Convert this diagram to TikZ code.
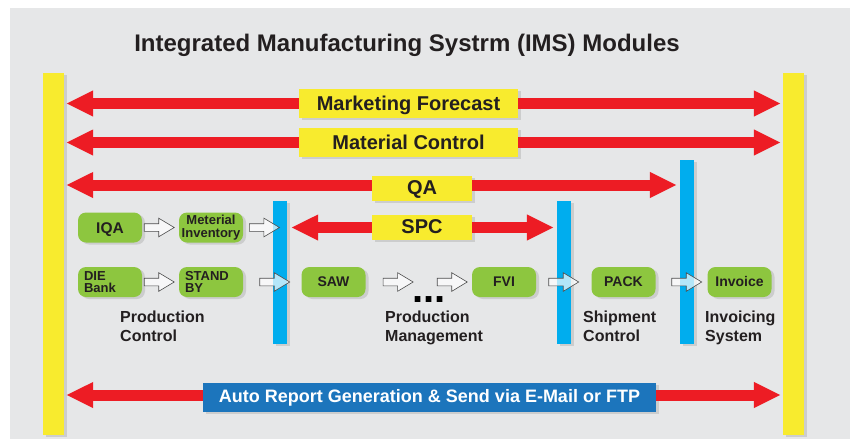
\documentclass[tikz,border=0pt]{standalone}
\usepackage{fontspec}
\setmainfont{Liberation Sans}
\usepackage{tikz}
\usetikzlibrary{positioning, arrows.meta, shapes.arrows, shadows}
\definecolor{imsgray}{HTML}{E6E7E8}
\definecolor{imsyellow}{HTML}{F8EB2E}
\definecolor{imsred}{HTML}{ED1C24}
\definecolor{imscyan}{HTML}{00ADEE}
\definecolor{imsgreen}{HTML}{8DC63F}
\definecolor{imsblue}{HTML}{1C75BC}
\definecolor{imsink}{HTML}{231F20}
\tikzstyle{soft}=[drop shadow={opacity=0.25, shadow xshift=3pt, shadow yshift=-2pt}]
\tikzstyle{yellowbar}=[soft, fill=imsyellow, inner sep=0pt, minimum width=21pt, minimum height=362pt]
\tikzstyle{bluebar}=[soft, fill=imscyan, inner sep=0pt, minimum width=14pt]
\tikzstyle{banner}=[soft, fill=imsyellow, text=imsink, inner sep=0pt, font=\bfseries\fontsize{20}{24}\selectfont, text height=14.5pt, text depth=1.5pt]
\tikzstyle{mod}=[soft, fill=imsgreen, text=imsink, rounded corners=8pt, inner sep=0pt, minimum width=64pt, minimum height=30pt, font=\bfseries\fontsize{13}{12.6}\selectfont, align=center]
\tikzstyle{bigarrow}=[draw=imsred, line width=11pt, -{Triangle[width=24pt,length=27pt]}, shorten >=2pt]
\tikzstyle{harrow}=[single arrow, draw=black!70, line width=0.6pt, fill=white, fill opacity=0.7, inner xsep=0pt, inner ysep=3.5pt, single arrow head extend=5.5pt, single arrow tip angle=62, minimum height=30pt, anchor=tip]
\tikzstyle{caption}=[anchor=north west, align=left, inner sep=0pt, text=imsink, font=\bfseries\fontsize{16}{19}\selectfont]

\begin{document}
\begin{tikzpicture}[x=1pt, y=-1pt, node distance=4pt]
\useasboundingbox (0,0) rectangle (850,439);
\fill[imsgray] (10,8) rectangle (850,439);
\node[anchor=base, text=imsink, font=\bfseries\fontsize{24}{28}\selectfont] (title) at (407,51) {Integrated Manufacturing Systrm (IMS) Modules};

\node[yellowbar] (lbar) at (53.5,254) {};
\node[yellowbar] (rbar) at (793.5,254) {};
\node[bluebar, minimum height=143pt] (pcbar) at (280,272.5) {};
\node[bluebar, minimum height=143pt] (scbar) at (564,272.5) {};
\node[bluebar, minimum height=184pt] (isbar) at (687,252) {};

\node[banner, minimum width=219pt, minimum height=29pt] (mf) at (408.5,103.5) {Marketing Forecast};
\node[banner, minimum width=219pt, minimum height=29pt] (mc) at (408.5,142.5) {Material Control};
\node[banner, minimum width=100pt, minimum height=25pt, text depth=3.5pt] (qa) at (422,188.5) {QA};
\node[banner, minimum width=100pt, minimum height=25pt, text depth=3.5pt] (spc) at (422,227.5) {SPC};
\node[banner, fill=imsblue, text=white, minimum width=453pt, minimum height=29pt, font=\bfseries\fontsize{18}{22}\selectfont, text height=13pt, text depth=4pt] (auto) at (429.5,397.5) {Auto Report Generation \& Send via E-Mail or FTP};

\path (mf.west) edge[bigarrow] (mf.west -| lbar.east)
      (mf.east) edge[bigarrow] (mf.east -| rbar.west);
\path (mc.west) edge[bigarrow] (mc.west -| lbar.east)
      (mc.east) edge[bigarrow] (mc.east -| rbar.west);
\path ([yshift=3.5pt]qa.west) edge[bigarrow] ([yshift=3.5pt]qa.west -| lbar.east)
      ([yshift=3.5pt]qa.east) edge[bigarrow, shorten >=3pt] ([yshift=3.5pt]qa.east -| isbar.west);
\path (spc.west) edge[bigarrow, shorten >=4pt] (spc.west -| pcbar.east)
      (spc.east) edge[bigarrow, shorten >=3pt] (spc.east -| scbar.west);
\path ([yshift=2.5pt]auto.west) edge[bigarrow] ([yshift=2.5pt]auto.west -| lbar.east)
      ([yshift=2.5pt]auto.east) edge[bigarrow] ([yshift=2.5pt]auto.east -| rbar.west);

\node[mod, font=\bfseries\fontsize{15.5}{14}\selectfont, text height=11pt, text depth=0pt] (iqa) at (110,227.5) {IQA};
\node[mod] (minv) at (211,227.5) {Meterial\\Inventory};
\node[mod, text width=52pt, align=left] (die) at (110,282) {DIE\\Bank};
\node[mod, text width=52pt, align=left] (sby) at (211,282) {STAND\\BY};
\node[mod, font=\bfseries\fontsize{14}{14}\selectfont, text height=10pt, text depth=2pt] (saw) at (333.5,282) {SAW};
\node[anchor=base, inner sep=0pt, text=black, font=\bfseries\fontsize{40}{40}\selectfont] (dots) at (429,302.5) {...};
\node[mod, font=\bfseries\fontsize{14}{14}\selectfont, text height=10pt, text depth=2pt] (fvi) at (504,282) {FVI};
\node[mod, font=\bfseries\fontsize{14}{14}\selectfont, text height=10pt, text depth=2pt] (pack) at (623.5,282) {PACK};
\node[mod, font=\bfseries\fontsize{14}{14}\selectfont, text height=10pt, text depth=2pt] (inv) at (739.5,282) {Invoice};

\node[harrow] (a1) at ([xshift=-4pt]minv.west) {};
\node[harrow] (a2) at (minv -| pcbar) {};
\node[harrow] (a3) at ([xshift=-4pt]sby.west) {};
\node[harrow] (a4) at ([xshift=-11pt]saw.west) {};
\node[harrow] (a5) at ([xshift=48pt]saw.east) {};
\node[harrow] (a6) at ([xshift=-4pt]fvi.west) {};
\node[harrow] (a7) at ([xshift=-12pt]pack.west) {};
\node[harrow] (a8) at ([xshift=-5pt]inv.west) {};

\node[caption] (pc) at (120,311) {Production\\Control};
\node[caption] (pm) at (385,311) {Production\\Management};
\node[caption] (sc) at (583,311) {Shipment\\Control};
\node[caption] (is) at (705,311) {Invoicing\\System};
\end{tikzpicture}
\end{document}
